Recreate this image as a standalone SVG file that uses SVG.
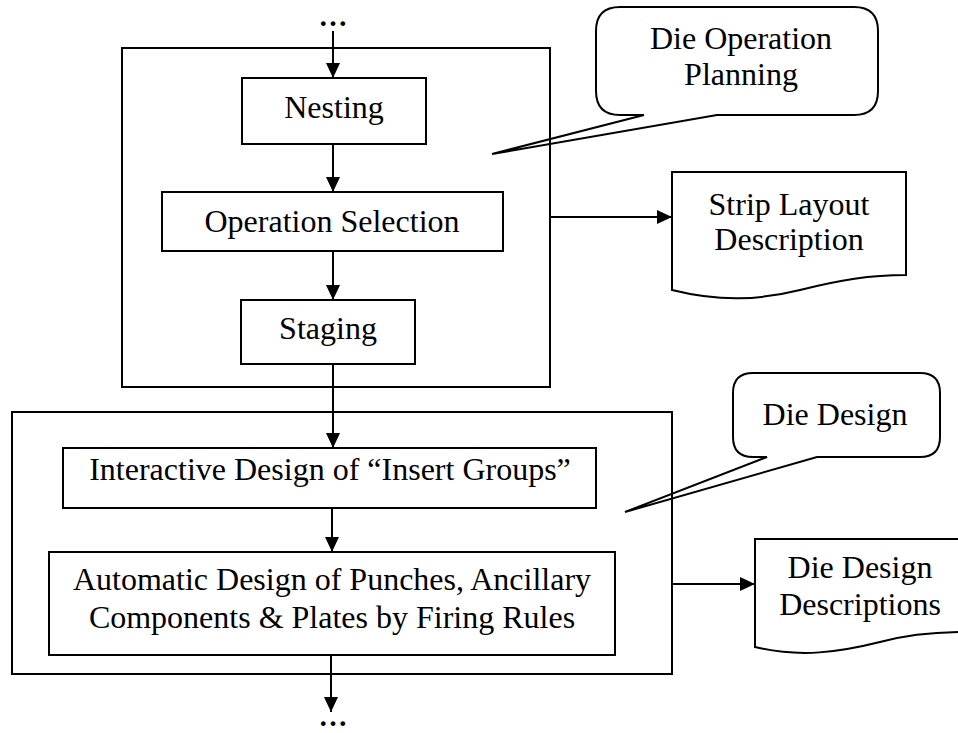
<svg xmlns="http://www.w3.org/2000/svg" width="958" height="733" viewBox="0 0 958 733">
  <style>
    .box { fill: none; stroke: #000; stroke-width: 2; }
    .frame { fill: none; stroke: #000; stroke-width: 2; }
    .call { fill: none; stroke: #000; stroke-width: 2; stroke-linejoin: miter; }
    .doc { fill: #fff; stroke: #000; stroke-width: 2; }
    .lbl { font-family: "Liberation Serif", "Times New Roman", serif; font-size: 32px; fill: #000; text-anchor: middle; }
    .dots { font-family: "Liberation Serif", "Times New Roman", serif; font-size: 29px; font-weight: bold; fill: #000; text-anchor: middle; }
    .conn { fill: none; stroke: #000; stroke-width: 2; marker-end: url(#arrow); }
  </style>
  <defs>
    <marker id="arrow" markerUnits="userSpaceOnUse" markerWidth="16" markerHeight="16" refX="15" refY="7" orient="auto">
      <path d="M0,0 L15,7 L0,14 Z" fill="#000"/>
    </marker>
  </defs>
  <rect width="958" height="733" fill="#fff"/>

  <!-- stage frames -->
  <g id="planning-frame">
    <rect class="frame" x="122" y="48" width="428" height="339"/>
  </g>
  <g id="design-frame">
    <rect class="frame" x="12" y="412" width="660" height="262"/>
  </g>

  <!-- callouts -->
  <g id="callout-planning">
    <path class="call" d="M620,7 H854 Q878,7 878,31 V91 Q878,115 854,115 H717 L492,154 L644,115 H620 Q596,115 596,91 V31 Q596,7 620,7 Z"/>
    <text class="lbl" x="741" y="49">Die Operation</text>
    <text class="lbl" x="741" y="85">Planning</text>
  </g>
  <g id="callout-design">
    <path class="call" d="M753,373 H920 Q940,373 940,393 V437 Q940,457 920,457 H817 L625,512 L767,457 H753 Q733,457 733,437 V393 Q733,373 753,373 Z"/>
    <text class="lbl" x="835" y="425">Die Design</text>
  </g>

  <!-- process steps -->
  <g id="nesting">
    <rect class="box" x="242" y="78" width="184" height="66"/>
    <text class="lbl" x="334" y="118">Nesting</text>
  </g>
  <g id="operation-selection">
    <rect class="box" x="162" y="192" width="341" height="59"/>
    <text class="lbl" x="332" y="232">Operation Selection</text>
  </g>
  <g id="staging">
    <rect class="box" x="241" y="300" width="174" height="64"/>
    <text class="lbl" x="328" y="339">Staging</text>
  </g>
  <g id="insert-groups">
    <rect class="box" x="63" y="448" width="533" height="60"/>
    <text class="lbl" x="330" y="480">Interactive Design of “Insert Groups”</text>
  </g>
  <g id="automatic-design">
    <rect class="box" x="49" y="552" width="566" height="103"/>
    <text class="lbl" x="332" y="590">Automatic Design of Punches, Ancillary</text>
    <text class="lbl" x="332" y="628">Components &amp; Plates by Firing Rules</text>
  </g>

  <!-- output documents -->
  <g id="strip-layout">
    <path class="doc" d="M672,172 H906 V275 C870,275 840,280 800,290 C760,300 720,302 672,290 Z"/>
    <text class="lbl" x="789" y="215">Strip Layout</text>
    <text class="lbl" x="789" y="250">Description</text>
  </g>
  <g id="die-descriptions">
    <path class="doc" d="M755,539 H966 V632 C935,632 910,634 880,642 C840,652 800,658 755,647 Z"/>
    <text class="lbl" x="860" y="578">Die Design</text>
    <text class="lbl" x="860" y="615">Descriptions</text>
  </g>

  <!-- continuation marks -->
  <g id="continue-top">
    <text class="dots" x="333" y="26">…</text>
  </g>
  <g id="continue-bottom">
    <text class="dots" x="333" y="726">…</text>
  </g>

  <!-- connectors -->
  <g id="connectors">
    <line class="conn" x1="333" y1="31" x2="333" y2="78"/>
    <line class="conn" x1="333" y1="144" x2="333" y2="192"/>
    <line class="conn" x1="333" y1="251" x2="333" y2="300"/>
    <line class="conn" x1="333" y1="364" x2="333" y2="448"/>
    <line class="conn" x1="332" y1="508" x2="332" y2="552"/>
    <line class="conn" x1="331" y1="655" x2="331" y2="712"/>
    <line class="conn" x1="550" y1="217" x2="672" y2="217"/>
    <line class="conn" x1="672" y1="584" x2="755" y2="584"/>
  </g>
</svg>
